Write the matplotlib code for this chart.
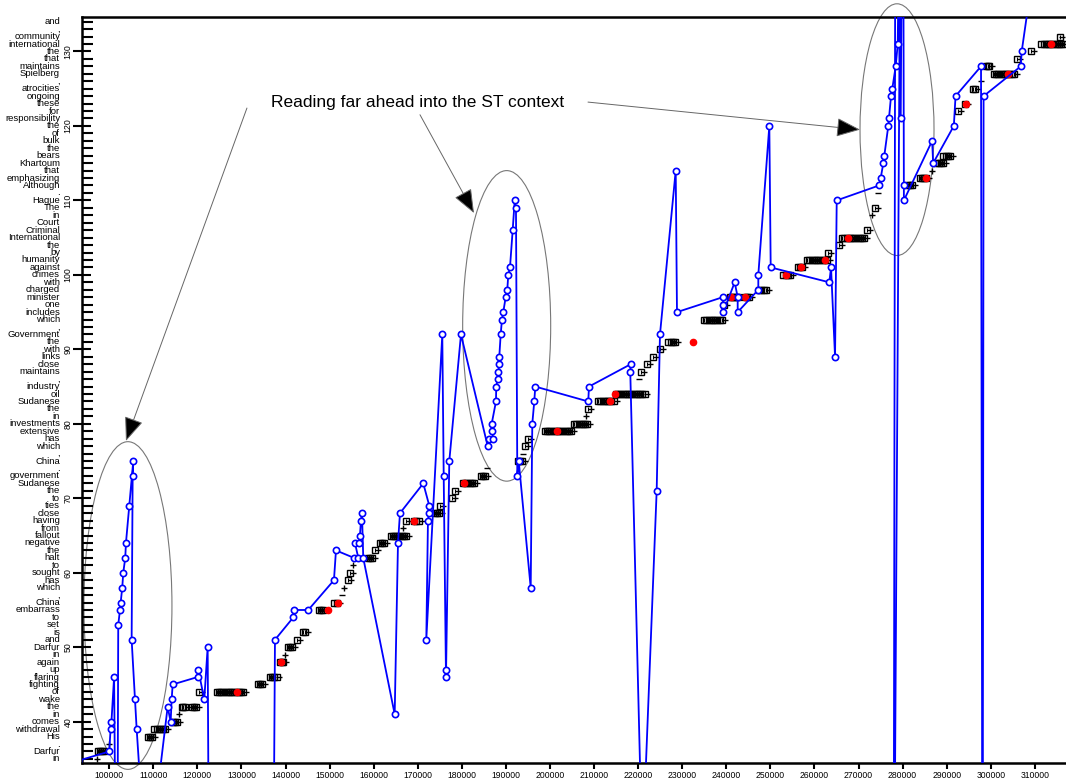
import numpy as np
import matplotlib.pyplot as plt
from matplotlib.patches import Ellipse
from matplotlib.transforms import blended_transform_factory

plt.rcParams['font.family'] = ['Liberation Sans', 'DejaVu Sans']

# sentence tokens, one per word position (bottom to top)
words = ['in', 'Darfur', '.', 'His', 'withdrawal', 'comes', 'in', 'the', 'wake', 'of',
         'fighting', 'flaring', 'up', 'again', 'in', 'Darfur', 'and', 'is', 'set', 'to',
         'embarrass', 'China', ',', 'which', 'has', 'sought', 'to', 'halt', 'the', 'negative',
         'fallout', 'from', 'having', 'close', 'ties', 'to', 'the', 'Sudanese', 'government', '.',
         'China', ',', 'which', 'has', 'extensive', 'investments', 'in', 'the', 'Sudanese', 'oil',
         'industry', ',', 'maintains', 'close', 'links', 'with', 'the', 'Government', ',', 'which',
         'includes', 'one', 'minister', 'charged', 'with', 'crimes', 'against', 'humanity', 'by', 'the',
         'International', 'Criminal', 'Court', 'in', 'The', 'Hague', '.', 'Although', 'emphasizing', 'that',
         'Khartoum', 'bears', 'the', 'bulk', 'of', 'the', 'responsibility', 'for', 'these', 'ongoing',
         'atrocities', ',', 'Spielberg', 'maintains', 'that', 'the', 'international', 'community', ',', 'and']
first_pos = 35

# fixation clusters of the other readers: centre, word, spread, red fixation (0 = none), kind
clu_x = [98100, 97200, 99900, 109200, 111500, 114900, 115800, 116800, 119200, 120300,
         127400, 134200, 137200, 139100, 139900, 141000, 142600, 144200, 148000, 151400,
         152800, 153300, 154200, 154700, 155300, 159200, 160300, 161900, 165600, 166600,
         167300, 169700, 174300, 175000, 177700, 178400, 181500, 184800, 185700, 193200,
         193800, 194300, 195000, 201800, 207000, 208100, 208600, 212700, 218200, 220200,
         220600, 222000, 223300, 224900, 227600, 232400, 237000, 239500, 241800, 244700,
         248200, 253700, 256700, 260600, 263000, 265500, 268800, 271900, 273000, 273700,
         274500, 281700, 284600, 286600, 288400, 290000, 292600, 294100, 296200, 297800,
         299300, 303000, 306000, 309200, 314000, 315600]
clu_y = [36, 35, 37, 38, 39, 40, 41, 42, 42, 44,
         44, 45, 46, 48, 49, 50, 51, 52, 55, 56,
         57, 58, 59, 60, 61, 62, 63, 64, 65, 66,
         67, 67, 68, 69, 70, 71, 72, 73, 74, 75,
         76, 77, 78, 79, 80, 81, 82, 83, 84, 86,
         87, 88, 89, 90, 91, 91, 94, 96, 97, 97,
         98, 100, 101, 102, 103, 104, 105, 106, 108, 109,
         111, 112, 113, 114, 115, 116, 122, 123, 125, 126,
         128, 127, 129, 130, 131, 132]
clu_w = [1500, 0, 0, 1000, 2500, 1000, 0, 800, 800, 0,
         6000, 1000, 1500, 800, 0, 800, 0, 600, 1000, 600,
         0, 0, 0, 0, 0, 800, 0, 800, 3500, 0,
         0, 1200, 1000, 0, 0, 0, 2500, 800, 0, 1000,
         0, 0, 0, 6000, 3000, 0, 0, 3500, 6500, 0,
         0, 0, 0, 0, 1500, 0, 4000, 0, 1800, 800,
         1500, 1500, 800, 4500, 0, 0, 5000, 0, 0, 0,
         0, 1000, 1500, 0, 1500, 1500, 0, 0, 600, 0,
         800, 4500, 0, 0, 5000, 0]
clu_red = [0, 0, 0, 0, 0, 0, 0, 0, 0, 0,
           129000, 0, 0, 139000, 0, 0, 0, 0, 149600, 152000,
           0, 0, 0, 0, 0, 0, 0, 0, 0, 0,
           0, 169200, 0, 0, 0, 0, 180400, 0, 0, 0,
           0, 0, 0, 201500, 0, 0, 0, 213700, 214800, 0,
           0, 0, 0, 0, 0, 232400, 0, 0, 241000, 244300,
           0, 253500, 257000, 262500, 0, 0, 267500, 0, 0, 0,
           0, 0, 285200, 0, 0, 0, 0, 294300, 0, 0,
           0, 304000, 0, 0, 313700, 0]
clu_kind = ['s', '+', '+', 's', 's', 's', '+', 's', 's', 's',
            's', 's', 's', 's', '+', 's', 's', 's', 's', 's',
            '_', '+', 's', 's', '+', 's', 's', 's', 's', '+',
            's', 's', 's', 's', 's', 's', 's', 's', '_', 's',
            '_', 's', 's', 's', 's', '+', 's', 's', 's', '_',
            's', 's', 's', 's', 's', 'r', 's', 's', 's', 's',
            's', 's', 's', 's', 's', 's', 's', 's', '+', 's',
            '_', 's', 's', '+', 's', 's', 's', 's', 's', '_',
            's', 's', 's', 's', 's', 's']

# eye path of the reader (off-text fixations fall outside the word range)
path_x = [93000, 100000, 100300, 100500, 101100, 101750, 102040, 102430, 102590, 102950,
          103180, 103630, 103790, 104540, 105450, 105310, 105080, 105830, 106220, 107220,
          110820, 113250, 113930, 114160, 114390, 120060, 120190, 121560, 122330, 122510,
          137370, 137600, 141750, 141980, 145150, 150980, 151440, 155520, 156500, 155750,
          156730, 156880, 157110, 157340, 157630, 164760, 165510, 165960, 171250, 172610,
          172540, 172310, 171930, 175560, 175880, 176400, 176400, 177150, 179800, 185860,
          186220, 187130, 186770, 186770, 187740, 187800, 188130, 188260, 188490, 188490,
          188810, 189100, 189400, 189940, 190310, 190530, 190920, 191530, 191990, 192280,
          192580, 192900, 195620, 195980, 196430, 196660, 208680, 208840, 218300, 218210,
          220600, 221480, 224200, 224950, 228520, 228810, 239180, 239320, 239320, 241900,
          242580, 242580, 247260, 247260, 249760, 250070, 263370, 263760, 264670, 265050,
          274640, 275030, 275620, 275850, 276750, 276910, 277370, 277660, 278430, 278890,
          279710, 277940, 278390, 279570, 280070, 280290, 280290, 286700, 286930, 291620,
          292010, 297790, 298140, 298370, 306800, 307020, 316700]
path_y = [34.77, 36, 39, 40, 46, 0, 53, 55, 56, 58,
          60, 62, 64, 69, 75, 73, 51, 43, 39, 30,
          30, 42, 40, 43, 45, 46, 47, 43, 50, 30,
          30, 51, 54, 55, 55, 59, 63, 62, 62, 64,
          64, 65, 67, 68, 62, 41, 64, 68, 72, 69,
          68, 67, 51, 92, 73, 47, 46, 75, 92, 77,
          78, 78, 79, 80, 83, 85, 86, 87, 88, 89,
          92, 94, 95, 97, 98, 100, 101, 106, 110, 109,
          73, 75, 58, 80, 83, 85, 83, 85, 88, 87,
          30, 30, 71, 92, 114, 95, 97, 96, 95, 99,
          97, 95, 98, 100, 120, 101, 99, 101, 89, 110,
          112, 113, 115, 116, 120, 121, 124, 125, 128, 131,
          170, 0, 170, 121, 170, 112, 110, 118, 115, 120,
          124, 128, 0, 124, 128, 130, 170]

# highlighted regions (centre x, centre y, width, height)
ell_x = [104240, 190170, 278730]
ell_y = [55.6, 93.15, 119.5]
ell_w = [19970, 19970, 16790]
ell_h = [44.0, 41.7, 33.8]

note = 'Reading far ahead into the ST context'
note_xy = (170040, 123.1)
arrow_from = [(131240, 122.4), (170500, 121.5), (208620, 123.2)]
arrow_to = [(103790, 77.7), (182750, 108.3), (270340, 119.5)]

fig = plt.figure(figsize=(10.66, 7.79), dpi=100)
ax = fig.add_axes([0.0766, 0.0205, 0.9234, 0.9581])
ax.set_xlim(93740, 317070)
ax.set_ylim(34.45, 134.67)

# other readers' fixations
for x, y, w, red, kind in zip(clu_x, clu_y, clu_w, clu_red, clu_kind):
    if kind == 's':
        n = int(round(w / 500)) + 1
        xs = np.linspace(x - w / 2, x + w / 2, n)
        ax.plot(xs, [y] * n, ls='none', marker='s', ms=3.8, mfc='none',
                mec='black', mew=1.0, zorder=2)
        ax.plot(xs, [y] * n, ls='none', marker='|', ms=3.2,
                mec='black', mew=0.8, zorder=2)
        ax.plot([x + w / 2 + 650], [y], ls='none', marker='_', ms=4.5,
                mec='black', mew=1.0, zorder=2)
    elif kind in ('+', '_'):
        ax.plot([x], [y], ls='none', marker=kind, ms=5, mec='black', mew=1.0, zorder=2)
    if red:
        ax.plot([red], [y], ls='none', marker='o', ms=4.5, mfc='red', mec='red', zorder=2.5)

# reader's eye path
ax.plot(path_x, path_y, color='#0000ff', lw=1.3, marker='o', ms=4.5,
        mfc='white', mec='#0000ff', mew=1.2, zorder=3)

for cx, cy, w, h in zip(ell_x, ell_y, ell_w, ell_h):
    ax.add_patch(Ellipse((cx, cy), w, h, fill=False, ec='#777777', lw=0.8,
                         clip_on=False, zorder=1))

ax.text(note_xy[0], note_xy[1], note, fontsize=12.5, ha='center', va='center', zorder=5)
for (x0, y0), (x1, y1) in zip(arrow_from, arrow_to):
    ax.annotate('', xy=(x1, y1), xytext=(x0, y0), annotation_clip=False,
                arrowprops=dict(arrowstyle='-|>,head_length=0.75,head_width=0.3',
                                mutation_scale=20, ec='#666666', fc='black',
                                lw=0.7, shrinkA=0, shrinkB=0), zorder=5)

# word labels on the left
trans = blended_transform_factory(ax.transAxes, ax.transData)
for i, w in enumerate(words):
    ax.text(-0.022, first_pos + i, w, transform=trans, ha='right', va='center',
            fontsize=6.8, clip_on=False)

ax.set_yticks(range(40, 131, 10))
ax.set_yticklabels([str(v) for v in range(40, 131, 10)], rotation=90,
                   va='center', fontsize=6.3)
ax.set_yticks(range(first_pos, first_pos + len(words)), minor=True)
ax.tick_params(axis='y', which='major', direction='inout', length=13, width=1.5, pad=0)
ax.tick_params(axis='y', which='minor', direction='in', length=8, width=1.5)

ax.set_xticks(range(100000, 310001, 10000))
ax.set_xticklabels([str(v) for v in range(100000, 310001, 10000)], fontsize=6.2)
ax.tick_params(axis='x', which='major', direction='out', length=4, width=1.5, pad=1.5)

for s in ('left', 'top', 'bottom'):
    ax.spines[s].set_linewidth(1.8)
ax.spines['right'].set_visible(False)

fig.savefig('out.png', dpi=100)
